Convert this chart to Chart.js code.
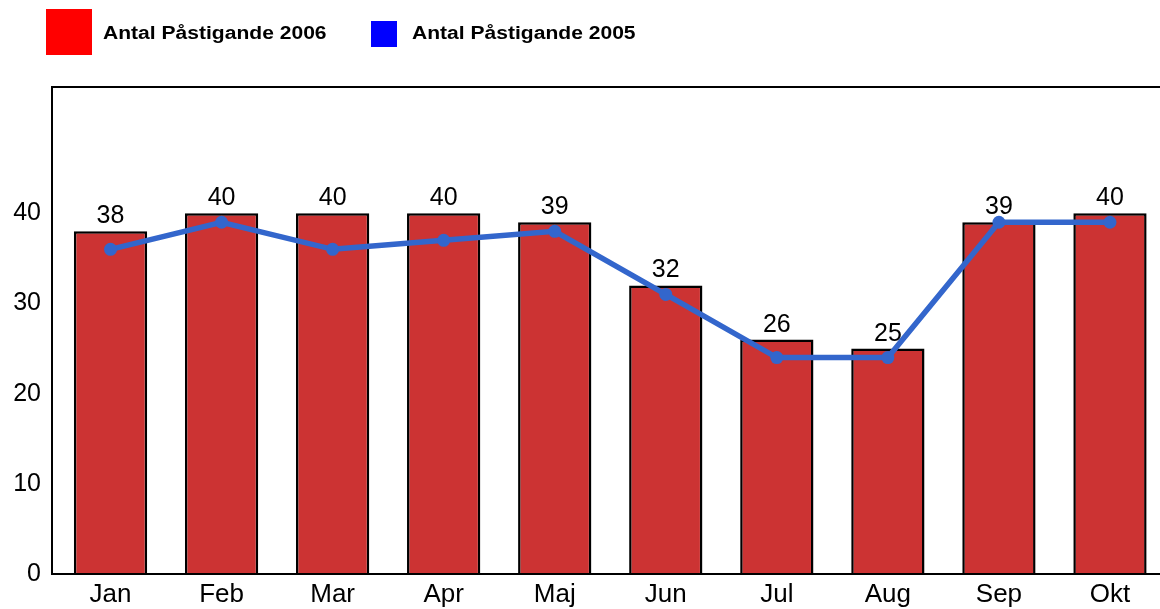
<!DOCTYPE html>
<html>
<head>
<meta charset="utf-8">
<script src="https://cdn.jsdelivr.net/npm/chart.js@4"></script>
<style>
  html, body { margin: 0; padding: 0; background: #fff; overflow: hidden; }
  #wrap { position: absolute; left: 0; top: 0; width: 1172px; height: 609px; }
  .leg { position: absolute; font: bold 18px "Liberation Sans", Arial, sans-serif; color: #000;
         transform: scaleX(1.17); transform-origin: left top; white-space: nowrap; }
  .box { position: absolute; }
</style>
</head>
<body>
<div id="wrap"><canvas id="chart" width="1172" height="609"></canvas></div>
<div class="box" style="left:46px;top:9px;width:46px;height:46px;background:#ff0000"></div>
<div class="leg" style="left:103px;top:23px">Antal Påstigande 2006</div>
<div class="box" style="left:371px;top:21px;width:26px;height:26px;background:#0000ff"></div>
<div class="leg" style="left:412px;top:23px">Antal Påstigande 2005</div>
<script>
// Data
const months = ["Jan", "Feb", "Mar", "Apr", "Maj", "Jun", "Jul", "Aug", "Sep", "Okt"];
const pastigande2006 = [38, 40, 40, 40, 39, 32, 26, 25, 39, 40];
const pastigande2005 = [36, 39, 36, 37, 38, 31, 24, 24, 39, 39];
const yTicks = [0, 10, 20, 30, 40];

const fontFam = '"Liberation Sans", Arial, sans-serif';

// ram runt ritytan + etiketter ovanför staplarna
const extras = {
  id: "extras",
  afterDatasetsDraw(chart) {
    const ctx = chart.ctx;
    const a = chart.chartArea;
    ctx.save();
    ctx.strokeStyle = "#000";
    ctx.lineWidth = 2;
    ctx.strokeRect(52, a.top, a.right - 52, a.bottom - a.top);
    ctx.fillStyle = "#000";
    ctx.font = "25px " + fontFam;
    ctx.textAlign = "center";
    ctx.textBaseline = "alphabetic";
    chart.getDatasetMeta(1).data.forEach((bar, i) => {
      ctx.fillText(String(pastigande2006[i]), bar.x, bar.y - 8);
    });
    ctx.restore();
  },
};

new Chart(document.getElementById("chart").getContext("2d"), {
  data: {
    labels: months,
    datasets: [
      {
        type: "line",
        label: "Antal Påstigande 2005",
        data: pastigande2005,
        borderColor: "#3366cc",
        backgroundColor: "#3366cc",
        borderWidth: 5.5,
        pointRadius: 6.5,
        pointBorderWidth: 0,
        tension: 0,
        order: 0,
      },
      {
        type: "bar",
        label: "Antal Påstigande 2006",
        data: pastigande2006,
        backgroundColor: "#cc3333",
        borderColor: "#000",
        borderWidth: 2.5,
        categoryPercentage: 1,
        barPercentage: 0.66,
        order: 1,
      },
    ],
  },
  options: {
    responsive: false,
    animation: false,
    layout: { padding: { top: 87, right: 4, left: 0, bottom: 0 } },
    plugins: { legend: { display: false }, tooltip: { enabled: false } },
    scales: {
      x: {
        grid: { display: false, drawTicks: false },
        border: { display: false },
        ticks: { color: "#000", font: { family: fontFam, size: 26 }, padding: 5 },
        afterFit(s) { s.height = 35; },
      },
      y: {
        min: 0,
        max: 54,
        grid: { display: false, drawTicks: true, tickLength: 6, tickColor: "#000", tickWidth: 1.5, drawOnChartArea: false },
        border: { display: false },
        ticks: { color: "#000", font: { family: fontFam, size: 25 }, padding: 8 },
        afterBuildTicks(s) { s.ticks = yTicks.map(v => ({ value: v })); },
        afterFit(s) { s.width = 55; },
      },
    },
  },
  plugins: [extras],
});
</script>
</body>
</html>
